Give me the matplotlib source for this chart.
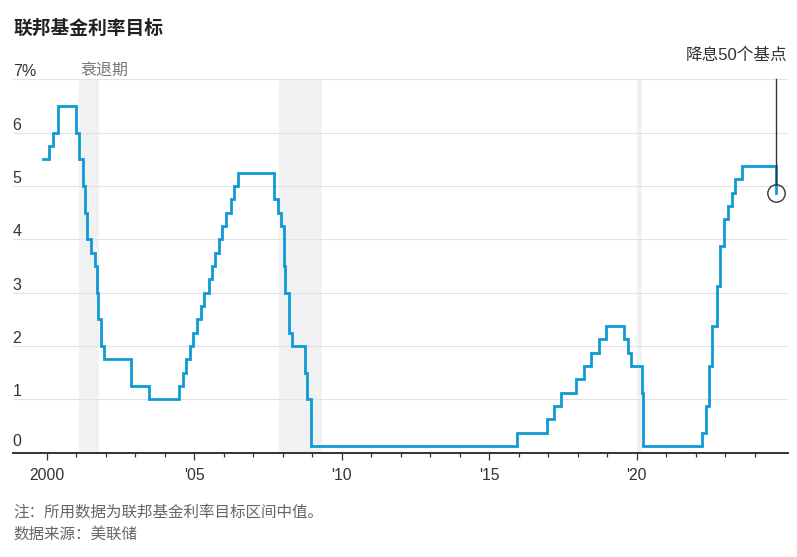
import matplotlib
matplotlib.use("Agg")
import matplotlib.pyplot as plt
from matplotlib.ticker import FixedLocator, FixedFormatter
import matplotlib.transforms as mtransforms

plt.rcParams['font.family'] = ['Liberation Sans', 'Noto Sans CJK SC', 'DejaVu Sans']

# ---- data (decimal years, rate % target / midpoint of target range) ----
dates = [1999.874, 2000.087, 2000.219, 2000.372, 2001.005, 2001.082, 2001.214,
         2001.293, 2001.367, 2001.485, 2001.636, 2001.710, 2001.751, 2001.847,
         2001.943, 2002.847, 2003.480, 2004.494, 2004.607, 2004.721, 2004.859,
         2004.951, 2005.088, 2005.220, 2005.334, 2005.493, 2005.603, 2005.718,
         2005.833, 2005.948, 2006.082, 2006.236, 2006.356, 2006.493, 2007.715,
         2007.833, 2007.945, 2008.057, 2008.079, 2008.210, 2008.329, 2008.770,
         2008.827, 2008.959, 2015.958, 2016.953, 2017.203, 2017.452, 2017.948,
         2018.219, 2018.449, 2018.737, 2018.966, 2019.578, 2019.712, 2019.827,
         2020.169, 2020.202, 2022.205, 2022.340, 2022.455, 2022.570, 2022.723,
         2022.838, 2022.953, 2023.085, 2023.222, 2023.337, 2023.567, 2024.715]
rates = [5.5, 5.75, 6.0, 6.5, 6.0, 5.5, 5.0,
         4.5, 4.0, 3.75, 3.5, 3.0, 2.5, 2.0,
         1.75, 1.25, 1.0, 1.25, 1.5, 1.75, 2.0,
         2.25, 2.5, 2.75, 3.0, 3.25, 3.5, 3.75,
         4.0, 4.25, 4.5, 4.75, 5.0, 5.25, 4.75,
         4.5, 4.25, 3.5, 3.0, 2.25, 2.0, 1.5,
         1.0, 0.125, 0.375, 0.625, 0.875, 1.125, 1.375,
         1.625, 1.875, 2.125, 2.375, 2.125, 1.875, 1.625,
         1.125, 0.125, 0.375, 0.875, 1.625, 2.375, 3.125,
         3.875, 4.375, 4.625, 4.875, 5.125, 5.375, 4.875]

recessions = [(2001.09, 2001.77), (2007.87, 2009.35), (2020.02, 2020.19)]

y_ticks = [0, 1, 2, 3, 4, 5, 6, 7]
y_labels = ['0', '1', '2', '3', '4', '5', '6', '7%']
x_major = [2000, 2005, 2010, 2015, 2020]
x_major_labels = ['2000', "'05", "'10", "'15", "'20"]
x_minor = [y for y in range(2001, 2025) if y % 5 != 0]

title = '联邦基金利率目标'
recession_label = '衰退期'
annot_text = '降息50个基点'
note1 = '注：所用数据为联邦基金利率目标区间中值。'
note2 = '数据来源：美联储'

# ---- figure ----
W, H = 797, 557
fig = plt.figure(figsize=(W / 100, H / 100), dpi=100)
left, right, top, bottom = 12.7, 787.7, 79.3, 452.7
ax = fig.add_axes([left / W, 1 - bottom / H, (right - left) / W, (bottom - top) / H])

ax.set_xlim(1998.847, 2025.125)
ax.set_ylim(0, 7)

for a, b in recessions:
    ax.axvspan(a, b, color='#f0f1f3', lw=0, zorder=0)

for v in y_ticks[1:]:
    ax.axhline(v, color='#e2e2e2', lw=0.8, zorder=1)

ax.step(dates, rates, where='post', color='#0f9ad6', lw=2.0, zorder=3,
        solid_joinstyle='miter')

# annotation: circle and line
cx, cy = dates[-1], rates[-1]
ax.plot([cx], [cy], marker='o', ms=12.5, mfc='none', mec='#333333', mew=1.0,
        zorder=4, clip_on=False)
r_data = 8.6 / ((bottom - top) / 7)
ax.plot([cx, cx], [cy + r_data, 7], color='#333333', lw=1.0, zorder=4, clip_on=False)
fig.text(787 / W, 1 - 55.5 / H, annot_text, ha='right', va='center',
         fontsize=12, color='#333333')

# spines
for s in ['left', 'right', 'top']:
    ax.spines[s].set_visible(False)
ax.spines['bottom'].set_color('#333333')
ax.spines['bottom'].set_linewidth(1.4)
ax.spines['bottom'].set_zorder(5)

ax.set_yticks([])
ax.xaxis.set_major_locator(FixedLocator(x_major))
ax.xaxis.set_major_formatter(FixedFormatter(x_major_labels))
ax.xaxis.set_minor_locator(FixedLocator(x_minor))
ax.tick_params(axis='x', which='major', length=5, width=0.9, color='#333333',
               pad=6, labelsize=11.3, labelcolor='#333333')
ax.tick_params(axis='x', which='minor', length=3, width=0.9, color='#333333')

# y labels above gridlines
trans = mtransforms.blended_transform_factory(ax.transAxes, ax.transData)
for v, lab in zip(y_ticks, y_labels):
    off = 2.6 if v == 0 else 0.0
    ax.annotate(lab, xy=(0, v), xycoords=trans, xytext=(0, off),
                textcoords='offset points', ha='left', va='bottom',
                fontsize=11.5, color='#333333', annotation_clip=False)

# texts
fig.text(13 / W, 1 - 28.5 / H, title, ha='left', va='center', fontsize=13.5,
         fontweight='bold', color='#222222')
fig.text(80 / W, 1 - 70.5 / H, recession_label, ha='left', va='center',
         fontsize=11.5, color='#777777')
fig.text(13 / W, 1 - 511.7 / H, note1, ha='left', va='center', fontsize=11.2,
         color='#666666')
fig.text(13 / W, 1 - 534 / H, note2, ha='left', va='center', fontsize=11.2,
         color='#666666')

fig.savefig('out.png', dpi=100)
